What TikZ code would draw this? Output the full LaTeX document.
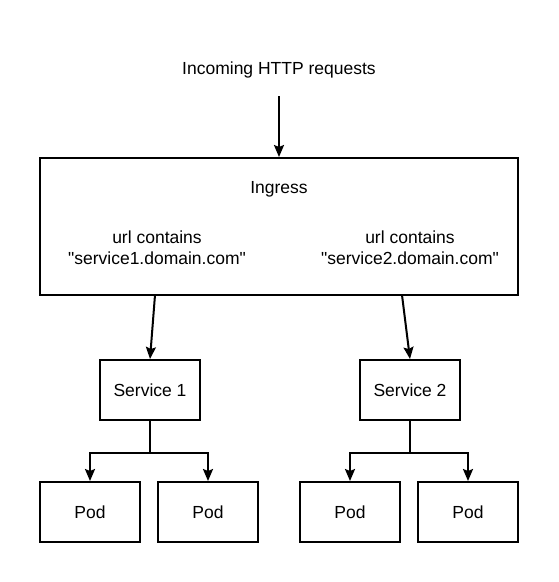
\documentclass[tikz,border=0pt]{standalone}
\usepackage{fontspec}
\newfontfamily\arial{Liberation Sans}
\usetikzlibrary{arrows.meta}
\begin{document}
\begin{tikzpicture}[x=1pt,y=-1pt,
  box/.style={draw,line width=2pt,minimum width=100pt,minimum height=60pt,inner sep=0pt,font=\arial\fontsize{17.5}{21}\selectfont},
  txt/.style={font=\arial\fontsize{17.5}{21}\selectfont,align=center,inner sep=0pt},
  conn/.style={line width=2pt,-{Stealth[length=12pt,width=10pt,inset=2pt]}}]
\useasboundingbox (0,0) rectangle (558,582);
\node[txt] (in) at (279,70) {Incoming HTTP requests};
\node[draw,line width=2pt,minimum width=478pt,minimum height=137pt,inner sep=0pt] (ing) at (279,226.5) {};
\node[txt] (ingl) at (279,189) {Ingress};
\node[txt] (r1) at (157,248) {url contains\\"service1.domain.com"};
\node[txt] (r2) at (410,248) {url contains\\"service2.domain.com"};
\node[box] (s1) at (150,390) {Service 1};
\node[box] (s2) at (410,390) {Service 2};
\node[box] (p1) at (90,512) {Pod};
\node[box] (p2) at (208,512) {Pod};
\node[box] (p3) at (350,512) {Pod};
\node[box] (p4) at (468,512) {Pod};
\coordinate (top) at (279,96);
\draw[conn] (top) -- (ing.north);
\draw[conn] (155,295) -- (s1.north);
\draw[conn] (402,295) -- (s2.north);
\draw[conn] (s1.south) -- ++(0,32) -| (p1.north);
\draw[conn] (s1.south) -- ++(0,32) -| (p2.north);
\draw[conn] (s2.south) -- ++(0,32) -| (p3.north);
\draw[conn] (s2.south) -- ++(0,32) -| (p4.north);
\end{tikzpicture}
\end{document}
